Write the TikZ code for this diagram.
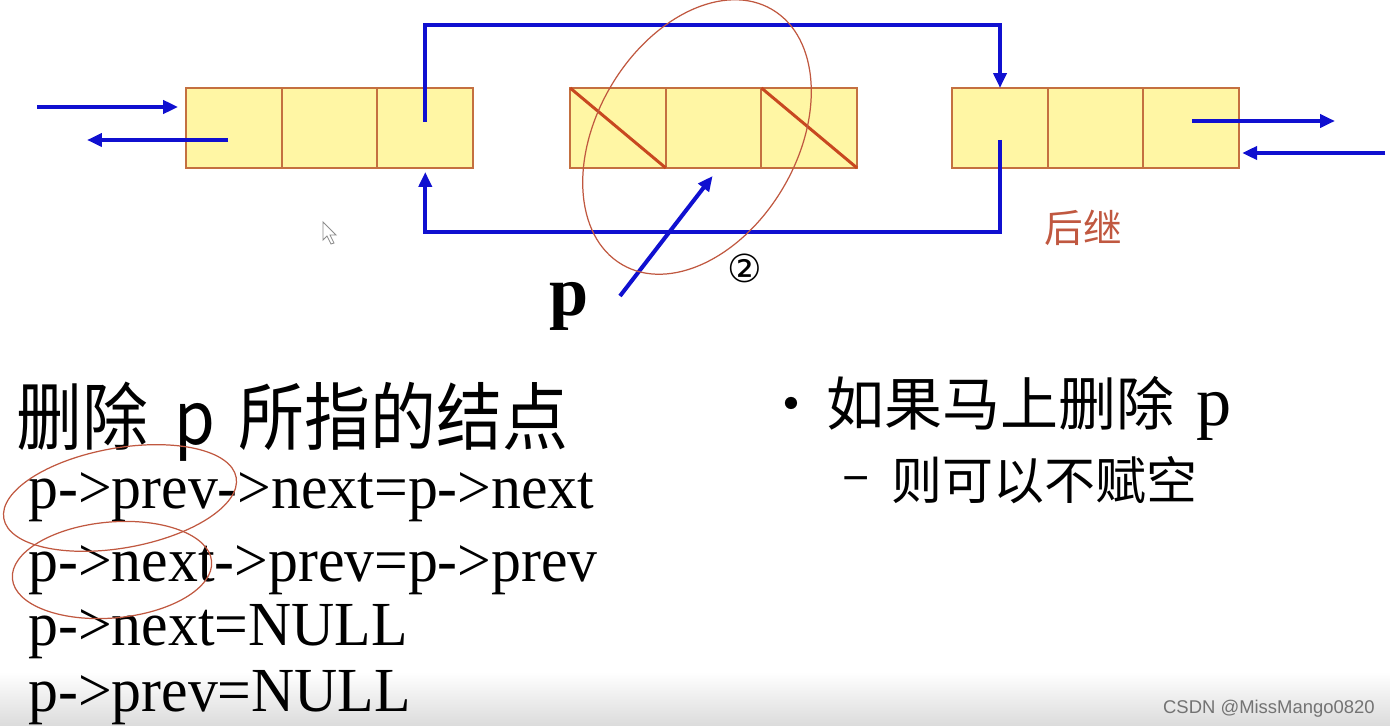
\documentclass[tikz,border=0pt]{standalone}
\usepackage{fontspec}
\setmainfont{Liberation Serif}
\newfontfamily\cjk{Noto Sans CJK SC}
\newfontfamily\wmfont{Liberation Sans}
\newfontfamily\circfont{DejaVu Sans}
\usetikzlibrary{positioning,arrows.meta}

\definecolor{cellfill}{RGB}{255,246,164}
\definecolor{cellline}{RGB}{196,112,64}
\definecolor{crossline}{RGB}{200,72,32}
\definecolor{linkblue}{RGB}{16,16,208}
\definecolor{penred}{RGB}{192,88,64}

\newcommand{\fsz}[1]{\fontsize{#1pt}{#1pt}\selectfont}
\newcommand{\tall}[1]{\scalebox{1}[1.05]{#1}}

\tikzset{
  cell/.style={draw=cellline, fill=cellfill, line width=1.1pt,
    minimum width=1.913cm, minimum height=1.6cm, inner sep=0pt, outer sep=0pt},
  link/.style={linkblue, line width=2.3pt, -{Triangle[length=0.3cm,width=0.26cm]}},
  cross/.style={crossline, line width=1.7pt},
  pen/.style={penred, line width=0.7pt},
  txt/.style={anchor=base west, inner sep=0pt},
}

\begin{document}
\begin{tikzpicture}[x=0.02cm, y=-0.02cm]
\useasboundingbox (0,0) rectangle (1390,726);
\shade[top color=white, bottom color=black!14] (0,672) rectangle (1390,726);

% left node
\node[cell] (lprev) at (234,128) {};
\node[cell, right=0pt of lprev] (ldata) {};
\node[cell, right=0pt of ldata] (lnext) {};

% node p
\node[cell] (pprev) at (618,128) {};
\node[cell, right=0pt of pprev] (pdata) {};
\node[cell, right=0pt of pdata] (pnext) {};
\draw[cross] (pprev.north west) -- (pprev.south east);
\draw[cross] (pnext.north west) -- (pnext.south east);

% right node
\node[cell] (rprev) at (1000,128) {};
\node[cell, right=0pt of rprev] (rdata) {};
\node[cell, right=0pt of rdata] (rnext) {};

\coordinate (toprail) at (0,25);
\coordinate (botrail) at (0,232);
\coordinate (lin)  at (37,107);
\coordinate (lout) at (87,140);
\coordinate (rout) at (1335,121);
\coordinate (rin)  at (1385,153);
\coordinate (ptail) at (620,296);

% new links
\draw[link] ([yshift=0.12cm]lnext.center) -- (lnext.center |- toprail)
    -- (rprev.center |- toprail) -- (rprev.north);
\draw[link] ([yshift=-0.24cm]rprev.center) -- (rprev.center |- botrail)
    -- (lnext.center |- botrail) -- ([shift={(0,4)}]lnext.south);

% outer links
\draw[link] (lin) -- ([shift={(-8,-21)}]lprev.west);
\draw[link] ([shift={(-6,12)}]lprev.center) -- (lout);
\draw[link] ([shift={(1,-7)}]rnext.center) -- (rout);
\draw[link] (rin) -- ([shift={(3,25)}]rnext.east);

% pointer p
\node[inner sep=0pt, font=\bfseries\fsz{40}] (plabel) at (569,306) {p};
\draw[link] (ptail) -- ([shift={(-1,8)}]pdata.south);
\node (two) at (745,268) {\circfont\fsz{22}②};

% mouse cursor
\draw[black!45, fill=white, line width=0.5pt] (323,222) -- (323,240) -- (327,236)
    -- (331,244) -- (334,243) -- (330,235) -- (336,235) -- cycle;

% text
\node[txt, font=\cjk\fsz{37.5}] (title) at (16,444)
    {\scalebox{1}[1.12]{删除\hspace{0.52cm}p\hspace{0.48cm}所指的结点}};
\node[txt, font=\fsz{34}] (code1) at (28,508) {\tall{p->prev->next=p->next}};
\node[txt, font=\fsz{34}] (code2) at (28,581) {\tall{p->next->prev=p->prev}};
\node[txt, font=\fsz{34}] (code3) at (28,645) {\tall{p->next=NULL}};
\node[txt, font=\fsz{34}] (code4) at (28,711) {\tall{p->prev=NULL}};

\node (dot1) at (791,411) {\cjk\fsz{33}·};
\node[txt, font=\cjk\fsz{33}] (if1) at (826,425)
    {如果马上删除\hspace{0.45cm}{\rmfamily\fsz{40}p}};
\node (dash2) at (856,485) {\cjk\fsz{29}–};
\node[txt, font=\cjk\fsz{29}] (if2) at (891,499) {则可以不赋空};

% handwriting
\draw[pen] (697,137) ellipse [x radius=2.96cm, y radius=2.0cm, rotate=59.5];
\draw[pen] (120,498) ellipse [x radius=2.36cm, y radius=1.0cm, rotate=10];
\draw[pen] (112,570) ellipse [x radius=2.0cm, y radius=0.96cm, rotate=5];
\node[text=penred] (succ) at (1083,228) {\cjk\fsz{22}后继};

\node[anchor=base east, inner sep=0pt, font=\wmfont\fsz{10.5}, text=black!55]
    (mark) at (1375,713) {CSDN @MissMango0820};
\end{tikzpicture}
\end{document}
